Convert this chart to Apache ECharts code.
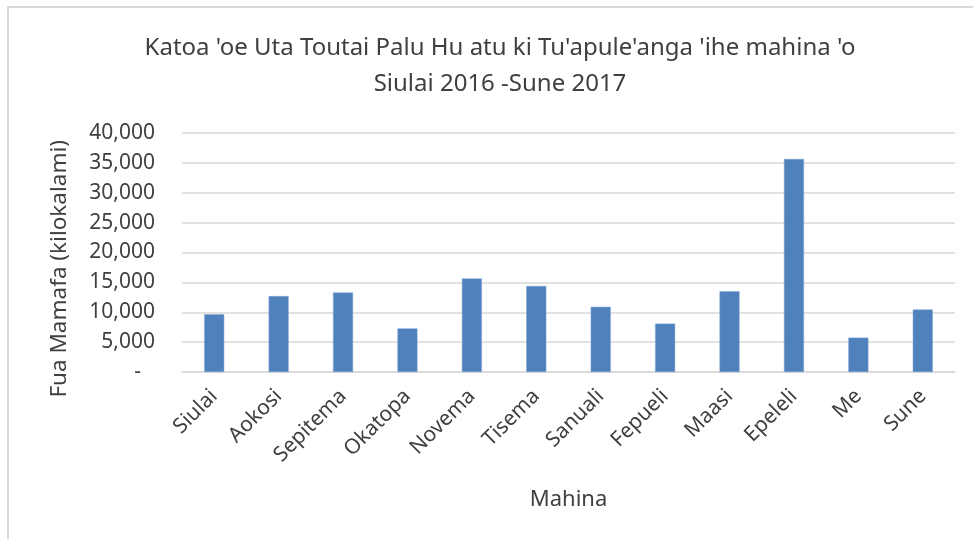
<!DOCTYPE html>
<html>
<head>
<meta charset="utf-8">
<script src="https://cdn.jsdelivr.net/npm/echarts@6/dist/echarts.min.js"></script>
<style>
html,body{margin:0;padding:0;background:#fff;}
#c{width:973px;height:539px;}
</style>
</head>
<body>
<div id="c"></div>
<script>
const months = ['Siulai','Aokosi','Sepitema','Okatopa','Novema','Tisema','Sanuali','Fepueli','Maasi','Epeleli','Me','Sune'];
const values = [9650, 12700, 13300, 7300, 15650, 14400, 10900, 8100, 13500, 35650, 5750, 10450];
const titleLines = ["Katoa 'oe Uta Toutai Palu Hu atu ki Tu'apule'anga 'ihe mahina 'o", "Siulai 2016 -Sune 2017"];
const yAxisTitle = 'Fua Mamafa (kilokalami)';
const xAxisTitle = 'Mahina';

const FONT = '"Noto Sans", sans-serif';
const chart = echarts.init(document.getElementById('c'));
chart.setOption({
  backgroundColor: '#fff',
  animation: false,
  title: {
    text: titleLines.join('\n'),
    left: 495,
    top: 25,
    textAlign: 'center',
    textStyle: {fontFamily: FONT, fontSize: 24, fontWeight: 'normal', color: '#404040', lineHeight: 36}
  },
  grid: {left: 182, right: 18, top: 133, bottom: 167},
  xAxis: {
    type: 'category',
    data: months,
    axisLine: {lineStyle: {color: '#d9d9d9', width: 1.5}},
    axisTick: {show: false},
    axisLabel: {rotate: 45, fontFamily: FONT, fontSize: 21, color: '#404040', margin: 21, interval: 0},
    name: xAxisTitle,
    nameLocation: 'middle',
    nameGap: 117,
    nameTextStyle: {fontFamily: FONT, fontSize: 22, color: '#404040'}
  },
  yAxis: {
    type: 'value',
    min: 0, max: 40000, interval: 5000,
    axisLine: {show: false},
    axisTick: {show: false},
    splitLine: {lineStyle: {color: '#d9d9d9', width: 1.5}},
    axisLabel: {
      fontFamily: FONT, fontSize: 21, color: '#404040', margin: 27,
      formatter: v => v === 0 ? '{d|-}' : v.toLocaleString('en-US'),
      rich: {d: {fontFamily: FONT, fontSize: 21, color: '#404040', padding: [0, 14, 0, 0]}}
    }
  },
  graphic: [
    {type: 'rect', shape: {x: 8, y: 7, width: 1100, height: 700}, style: {fill: 'none', stroke: '#d9d9d9', lineWidth: 2}, silent: true},
    {type: 'text', left: 48, top: 140, rotation: Math.PI / 2,
     style: {text: yAxisTitle, fontFamily: FONT, fontSize: 22.5, fill: '#404040'}}
  ],
  series: [{
    type: 'bar',
    data: values,
    barWidth: 20,
    itemStyle: {color: '#4f81bd', borderColor: '#7ea3d1', borderWidth: 0.5}
  }]
});
</script>
</body>
</html>
